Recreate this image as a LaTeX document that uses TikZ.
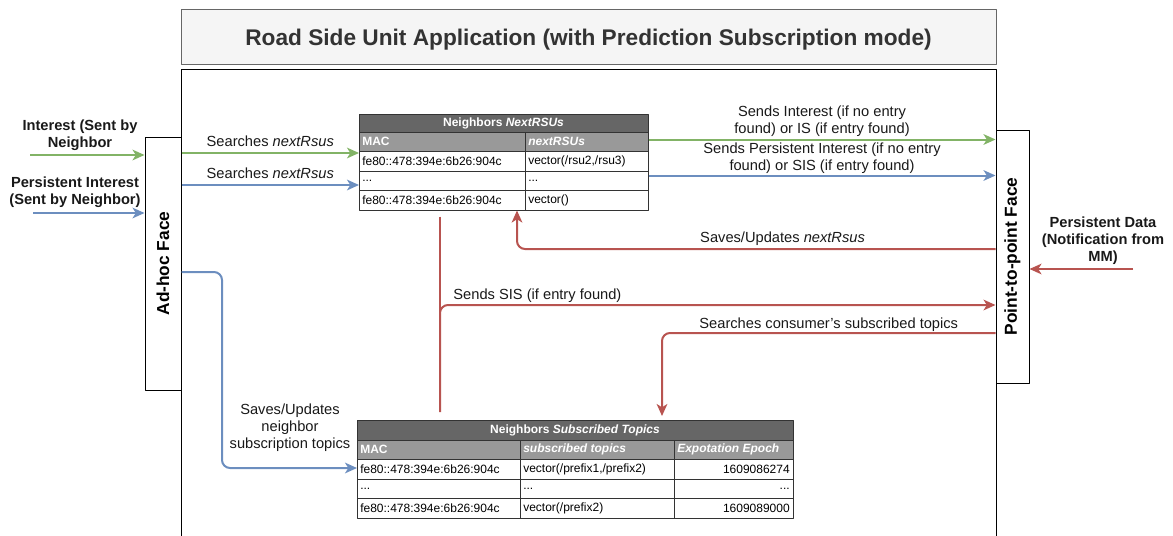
\documentclass[tikz,border=0pt]{standalone}
\usepackage{fontspec}
\setmainfont{Liberation Sans}
\usetikzlibrary{arrows.meta}
\definecolor{grn}{HTML}{82B366}
\definecolor{blu}{HTML}{6C8EBF}
\definecolor{rd}{HTML}{B85450}
\definecolor{hdgray}{HTML}{666666}
\definecolor{colgray}{HTML}{999999}
\definecolor{ttlfill}{HTML}{F5F5F5}
\definecolor{ttltext}{HTML}{333333}

\begin{document}
\begin{tikzpicture}[x=0.75pt, y=-0.75pt, line join=round,
	lbl/.style={font=\fontsize{11}{12.75}\selectfont, text=black!90, align=center, inner sep=1pt},
	blbl/.style={lbl, font=\fontsize{11}{12.75}\selectfont\bfseries},
	flow/.style={line width=1.5pt, rounded corners=6pt, -{Stealth[length=9pt, width=8pt, inset=2.5pt]}},
	face/.style={draw, fill=white, line width=0.75pt, inner sep=0pt},
	facelbl/.style={rotate=90, font=\fontsize{13}{15}\selectfont\bfseries},
	cell/.style={font=\fontsize{9}{10}\selectfont, inner sep=0pt, anchor=west},
	hcell/.style={cell, text=white, font=\fontsize{9}{10}\selectfont\bfseries},
	grid/.style={draw=black!80, line width=0.6pt}]
	\useasboundingbox (0,0) rectangle (1173,535);
	
	% frames
	\node[draw=hdgray, fill=ttlfill, line width=0.75pt, minimum width=611.25pt, minimum height=41.25pt, text=ttltext, font=\fontsize{17}{20}\selectfont\bfseries] (title) at (588.5,37.5) {};
	\node[text=ttltext, font=\fontsize{17}{20}\selectfont\bfseries] (titletxt) at (588.5,40) {Road Side Unit Application (with Prediction Subscription mode)};
	\node[draw, line width=0.75pt, minimum width=611.25pt, minimum height=360pt, anchor=north west, inner sep=0pt] (rsu) at (181,69) {};
	
	\node[face, minimum width=27pt, minimum height=189.75pt] (adhoc) at (163,263.5) {};
	\node[facelbl] (adhoclbl) at (adhoc) {Ad-hoc Face};
	\node[face, minimum width=24.75pt, minimum height=189.75pt] (p2p) at (1012.5,256.5) {};
	\node[facelbl] (p2plbl) at (p2p) {Point-to-point Face};
	
	% Neighbors NextRSUs
	\node[inner sep=0pt, minimum width=216.75pt, minimum height=72pt, anchor=north west] (nrsu) at (359,114) {};
	\fill[hdgray] (359,114) rectangle (648,132);
	\fill[colgray] (359,132) rectangle (648,151);
	\draw[grid] (359,114) rectangle (648,210);
	\foreach \y in {132,151,171,190} \draw[grid] (359,\y) -- (648,\y);
	\draw[grid] (525,132) -- (525,210);
	\node[hcell, anchor=center] (nrsuhead) at (503.5,123) {Neighbors \textit{NextRSUs}};
	\node[hcell] (nrsumac) at (362,141.5) {MAC};
	\node[hcell] (nrsunext) at (528,141.5) {\textit{nextRSUs}};
	\node[cell] (nr1a) at (362,161) {fe80::478:394e:6b26:904c};
	\node[cell] (nr1b) at (528,161) {vector(/rsu2,/rsu3)};
	\node[cell] (nr2a) at (362,180.5) {...};
	\node[cell] (nr2b) at (528,180.5) {...};
	\node[cell] (nr3a) at (362,200) {fe80::478:394e:6b26:904c};
	\node[cell] (nr3b) at (528,200) {vector()};
	
	% Neighbors Subscribed Topics
	\node[inner sep=0pt, minimum width=327pt, minimum height=73.5pt, anchor=north west] (nsub) at (357,420) {};
	\fill[hdgray] (357,420) rectangle (793,440);
	\fill[colgray] (357,440) rectangle (793,459);
	\draw[grid] (357,420) rectangle (793,518);
	\foreach \y in {440,459,479,498} \draw[grid] (357,\y) -- (793,\y);
	\draw[grid] (520,440) -- (520,518) (674,440) -- (674,518);
	\node[hcell, anchor=center] (nsubhead) at (575,430) {Neighbors \textit{Subscribed Topics}};
	\node[hcell] (nsubmac) at (360,449.5) {MAC};
	\node[hcell] (nsubtop) at (523,449.5) {\textit{subscribed topics}};
	\node[hcell] (nsubexp) at (677,449.5) {\textit{Expotation Epoch}};
	\node[cell] (ns1a) at (360,469) {fe80::478:394e:6b26:904c};
	\node[cell] (ns1b) at (523,469) {vector(/prefix1,/prefix2)};
	\node[cell, anchor=east] (ns1c) at (790,469) {1609086274};
	\node[cell] (ns2a) at (360,488.5) {...};
	\node[cell] (ns2b) at (523,488.5) {...};
	\node[cell, anchor=east] (ns2c) at (790,488.5) {...};
	\node[cell] (ns3a) at (360,508) {fe80::478:394e:6b26:904c};
	\node[cell] (ns3b) at (523,508) {vector(/prefix2)};
	\node[cell, anchor=east] (ns3c) at (790,508) {1609089000};
	
	% incoming
	\coordinate (intin) at (30,155);
	\coordinate (pintin) at (33,213);
	\coordinate (pdin) at (1133,269);
	\draw[flow, grn] (intin) -- (intin -| adhoc.west);
	\node[blbl] (intlbl) at (80,135) {Interest (Sent by\\Neighbor};
	\draw[flow, blu] (pintin) -- (pintin -| adhoc.west);
	\node[blbl] (pintlbl) at (75,192) {Persistent Interest\\(Sent by Neighbor)};
	\draw[flow, rd] (pdin) -- (pdin -| p2p.east);
	\node[blbl] (pdlbl) at (1103,241) {Persistent Data\\(Notification from\\MM)};
	
	% lookups
	\draw[flow, grn] (adhoc.east |- 0,153) -- (nrsu.west |- 0,153) node[lbl, midway, above=3pt] {Searches \textit{nextRsus}};
	\draw[flow, blu] (adhoc.east |- 0,185) -- (nrsu.west |- 0,185) node[lbl, midway, above=3pt] {Searches \textit{nextRsus}};
	\draw[flow, grn] (nrsu.east |- 0,139.5) -- (p2p.west |- 0,139.5) node[lbl, midway, above=0.5pt] {Sends Interest (if no entry\\found) or IS (if entry found)};
	\draw[flow, blu] (nrsu.east |- 0,175.5) -- (p2p.west |- 0,175.5) node[lbl, midway, above=0pt] {Sends Persistent Interest (if no entry\\found) or SIS (if entry found)};
	\draw[flow, rd] (p2p.west |- 0,249) -- node[lbl, pos=0.445, above=1pt] {Saves/Updates \textit{nextRsus}} (517,249) -- (nrsu.south -| 517,0);
	\draw[rd, line width=1.5pt, shorten <=4.5pt, shorten >=6pt] (nrsu.south -| 440,0) -- (nsub.north -| 440,0);
	\draw[flow, rd] (nsub.north -| 440,0) ++(0,-8) |- node[lbl, pos=0.51, above right] {Sends SIS (if entry found)} (p2p.west |- 0,305);
	\draw[flow, rd, shorten >=3pt] (p2p.west |- 0,333) -| node[lbl, pos=0.25, above=-1pt] {Searches consumer's subscribed topics} (nsub.north -| 662,0);
	\draw[flow, blu] (adhoc.east |- 0,272) -| (222,468) -- (nsub.west |- 0,468);
	\node[lbl] (savlbl) at (290,428) {Saves/Updates\\neighbor\\subscription topics};
\end{tikzpicture}
\end{document}
